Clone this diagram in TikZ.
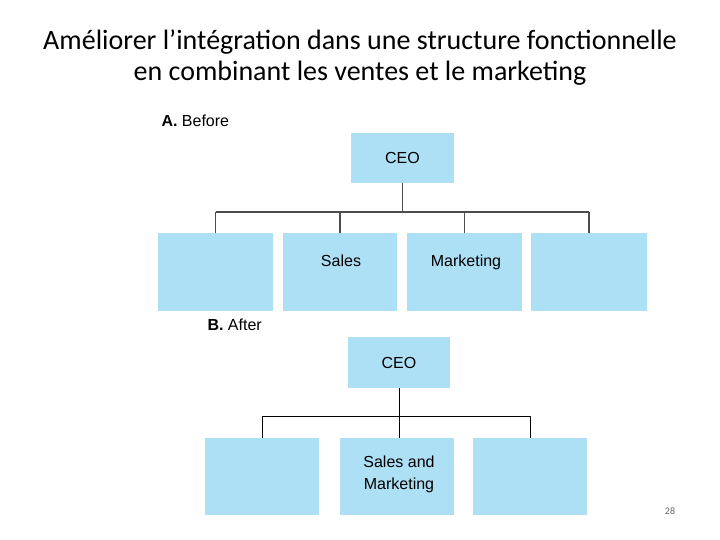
\documentclass[tikz,border=0pt]{standalone}
\usepackage{fontspec}
\setmainfont{Carlito}
\newfontfamily\diag{Liberation Sans}
\definecolor{boxblue}{RGB}{173,223,245}
\begin{document}
\begin{tikzpicture}[x=1pt,y=-1pt,
  orgbox/.style={fill=boxblue,draw=none,inner sep=0pt},
  boxtext/.style={font=\diag\fontsize{16}{22}\selectfont,align=center,inner sep=0pt},
  linkA/.style={draw=black!70,line width=1.2pt},
  linkB/.style={draw=black,line width=1pt}]
\useasboundingbox (0,0) rectangle (720,540);
\node[font=\fontsize{28}{31}\selectfont,align=center] (title) at (360,58) {Améliorer l’intégration dans une structure fonctionnelle\\en combinant les ventes et le marketing};
% Part A
\node[anchor=west,font=\diag\fontsize{16}{18}\selectfont] (labA) at (158,121) {\textbf{A.}\ Before};
\node[orgbox,minimum width=103,minimum height=50] (ceoA) at (402.5,158) {};
\node[boxtext] (tceoA) at (ceoA) {CEO};
\node[orgbox,minimum width=115,minimum height=78] (a1) at (215.5,272) {};
\node[orgbox,minimum width=114,minimum height=78] (a2) at (340,272) {};
\node[orgbox,minimum width=115,minimum height=78] (a3) at (464.5,272) {};
\node[orgbox,minimum width=116,minimum height=78] (a4) at (589,272) {};
\node[boxtext,anchor=base] (ta2) at (341,266) {Sales};
\node[boxtext,anchor=base] (ta3) at (466,266) {Marketing};
\coordinate (hA) at (402.5,212);
\draw[linkA] (ceoA.south) -- (hA);
\draw[linkA] (a1.north |- hA) -- (a4.north |- hA);
\foreach \b in {a1,a2,a3,a4} \draw[linkA] (\b.north) -- (\b.north |- hA);
% Part B
\node[anchor=west,font=\diag\fontsize{16}{18}\selectfont] (labB) at (204,325) {\textbf{B.}\ After};
\node[orgbox,minimum width=102,minimum height=51] (ceoB) at (399,362.5) {};
\node[boxtext] (tceoB) at (ceoB) {CEO};
\node[orgbox,minimum width=114,minimum height=77] (b1) at (262,476.5) {};
\node[orgbox,minimum width=114,minimum height=77] (b2) at (397,476.5) {};
\node[orgbox,minimum width=114,minimum height=77] (b3) at (530,476.5) {};
\node[boxtext,anchor=north] (tb2) at (399,456) {Sales and\\Marketing};
\coordinate (hB) at (399,416);
\draw[linkB] (ceoB.south) -- (hB);
\draw[linkB] (b1.north |- hB) -- (b3.north |- hB);
\draw[linkB] (b1.north) -- (b1.north |- hB);
\draw[linkB] (hB) -- (hB |- b2.north);
\draw[linkB] (b3.north) -- (b3.north |- hB);
\node[font=\fontsize{10}{12}\selectfont,text=black!60] (pg) at (670,511) {28};
\end{tikzpicture}
\end{document}
